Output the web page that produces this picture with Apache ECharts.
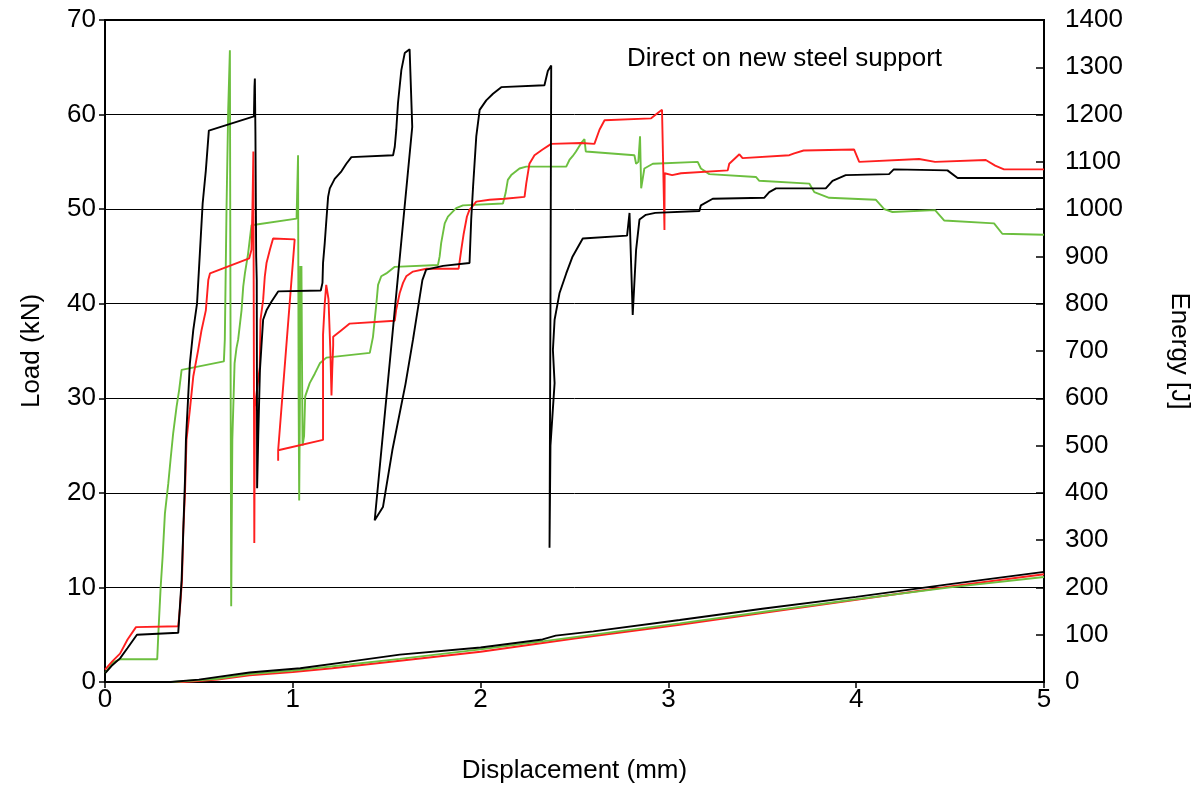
<!DOCTYPE html>
<html>
<head>
<meta charset="utf-8">
<script src="https://cdn.jsdelivr.net/npm/echarts@6/dist/echarts.min.js"></script>
<style>html,body{margin:0;padding:0;background:#fff}#c{width:1200px;height:789px}</style>
</head>
<body>
<div id="c"></div>
<script>
// ---- data (displacement mm, load kN / energy J) ----
var blackLoad = [[0,0.9],[0.04,1.8],[0.08,2.5],[0.12,3.6],[0.17,5.0],[0.39,5.2],[0.408,10.8],[0.417,16.1],[0.426,21.4],[0.431,25.6],[0.443,30.2],[0.452,33.7],[0.47,37.2],[0.49,40],[0.505,45.3],[0.52,50.6],[0.537,54.1],[0.553,58.3],[0.793,59.8],[0.796,63],[0.798,63.8],[0.801,58],[0.805,45],[0.808,42.5],[0.81,20.5],[0.816,26],[0.825,33],[0.833,35.5],[0.842,38.3],[0.86,39.3],[0.886,40.2],[0.922,41.3],[1.149,41.4],[1.158,42.2],[1.161,44.3],[1.17,46.4],[1.179,48.9],[1.188,51.3],[1.197,52.2],[1.223,53.2],[1.259,54.0],[1.285,54.8],[1.312,55.5],[1.534,55.7],[1.543,56.6],[1.551,58.4],[1.56,61.2],[1.578,64.7],[1.596,66.5],[1.622,66.9],[1.636,58.7],[1.436,17.1],[1.48,18.5],[1.53,24.5],[1.6,31.5],[1.64,36.2],[1.69,42.5],[1.71,43.6],[1.8,44.0],[1.941,44.3],[1.95,48.9],[1.96,52.4],[1.977,57.7],[1.995,60.5],[2.03,61.5],[2.066,62.2],[2.11,62.9],[2.34,63.1],[2.358,64.6],[2.376,65.2],[2.372,40],[2.367,14.2],[2.372,25],[2.394,31.6],[2.385,35.1],[2.394,38.3],[2.42,41.1],[2.456,43.2],[2.49,45],[2.544,46.9],[2.78,47.2],[2.793,49.6],[2.81,38.8],[2.828,45.7],[2.846,48.9],[2.88,49.4],[2.93,49.6],[3.165,49.8],[3.173,50.4],[3.236,51.1],[3.51,51.2],[3.537,51.8],[3.573,52.2],[3.838,52.2],[3.874,53.0],[3.944,53.6],[4.175,53.7],[4.2,54.2],[4.486,54.1],[4.54,53.3],[5.0,53.3]];

var redLoad = [[0,1.3],[0.04,2.2],[0.08,3.0],[0.12,4.5],[0.165,5.8],[0.39,5.9],[0.40,8.0],[0.41,10.8],[0.417,16.1],[0.426,20.0],[0.434,25.6],[0.452,28.8],[0.47,32.3],[0.496,35.1],[0.514,37.2],[0.537,39.3],[0.55,42.5],[0.559,43.2],[0.768,44.8],[0.78,45.7],[0.785,50],[0.79,56.1],[0.792,40],[0.795,14.7],[0.797,24],[0.798,29.1],[0.81,31],[0.824,33.3],[0.828,38.3],[0.842,40.4],[0.851,42.9],[0.86,44.3],[0.878,45.7],[0.895,46.9],[1.01,46.8],[0.922,24.5],[0.922,23.4],[0.922,24.5],[1.161,25.6],[1.161,36.7],[1.17,40],[1.178,42],[1.183,41.8],[1.19,40.5],[1.2,35],[1.206,30.3],[1.21,33],[1.215,35.6],[1.215,36.5],[1.259,37.2],[1.303,37.9],[1.543,38.2],[1.55,39.3],[1.569,41.1],[1.587,42.2],[1.604,42.9],[1.64,43.4],[1.711,43.7],[1.883,43.7],[1.897,45.7],[1.91,47.4],[1.927,49.2],[1.94,49.9],[1.977,50.8],[2.048,51.0],[2.128,51.1],[2.234,51.3],[2.243,52.7],[2.26,54.8],[2.287,55.7],[2.33,56.3],[2.376,56.9],[2.536,57.0],[2.606,56.9],[2.633,58.4],[2.66,59.4],[2.908,59.6],[2.952,60.3],[2.966,60.5],[2.975,52],[2.979,47.8],[2.98,53.8],[3.02,53.6],[3.067,53.8],[3.077,54.0],[3.316,54.1],[3.324,54.8],[3.378,55.8],[3.395,55.4],[3.644,55.7],[3.67,55.9],[3.72,56.2],[3.989,56.3],[4.016,55.0],[4.335,55.3],[4.42,55.0],[4.69,55.2],[4.74,54.6],[4.787,54.2],[5.0,54.2]];

var greenLoad = [[0,0.95],[0.044,2.1],[0.08,2.4],[0.278,2.4],[0.284,5.1],[0.296,9.9],[0.307,13.3],[0.319,17.8],[0.337,21.0],[0.349,23.5],[0.363,26.3],[0.381,29.1],[0.395,30.9],[0.408,33.0],[0.633,33.9],[0.638,36.2],[0.647,49.9],[0.656,60.5],[0.665,66.8],[0.668,40],[0.672,8],[0.674,7.8],[0.676,20],[0.678,25.6],[0.69,33.7],[0.70,35.3],[0.709,36.2],[0.727,39.3],[0.736,41.8],[0.745,43.2],[0.762,45.3],[0.78,48.3],[1.02,49.0],[1.028,55.7],[1.031,30],[1.034,19.2],[1.038,30],[1.04,44],[1.043,34],[1.046,44],[1.049,34],[1.052,25],[1.06,26],[1.066,30.2],[1.09,31.6],[1.117,32.6],[1.144,33.7],[1.179,34.3],[1.41,34.8],[1.427,36.5],[1.445,40.0],[1.454,42.0],[1.471,42.9],[1.498,43.2],[1.543,43.9],[1.773,44.1],[1.782,45.0],[1.79,46.4],[1.809,48.5],[1.826,49.2],[1.87,50.1],[1.906,50.4],[2.119,50.6],[2.133,51.7],[2.145,53.1],[2.163,53.6],[2.207,54.3],[2.243,54.5],[2.456,54.5],[2.473,55.2],[2.49,55.6],[2.508,56.1],[2.536,57.0],[2.553,57.4],[2.56,56.1],[2.819,55.7],[2.828,54.8],[2.84,55],[2.849,57.7],[2.855,52.2],[2.86,52.2],[2.872,54.3],[2.917,54.8],[3.156,55.0],[3.173,54.3],[3.218,53.7],[3.466,53.4],[3.484,53.0],[3.75,52.7],[3.777,51.8],[3.856,51.2],[4.104,51.0],[4.149,50.0],[4.193,49.7],[4.42,49.9],[4.468,48.8],[4.734,48.5],[4.778,47.4],[5.0,47.3]];

var blackEnergy = [[0,0],[0.35,0],[0.5,5],[0.77,20],[1.04,29],[1.3,43],[1.57,58],[2.0,73],[2.33,90],[2.4,98],[2.6,107],[3.06,131],[3.5,155],[4.0,180],[4.5,207],[5.0,233]];
var redEnergy = [[0,0],[0.42,0],[0.6,5],[0.77,14],[1.0,21],[1.21,29],[1.57,45],[2.0,64],[2.5,92],[3.06,121],[3.5,146],[4.0,174],[4.5,202],[5.0,228]];
var greenEnergy = [[0,0],[0.36,0],[0.6,7],[0.77,17],[1.0,24],[1.3,37],[1.57,49],[2.0,69],[2.5,95],[3.06,124],[3.5,148],[4.0,175],[4.5,200],[5.0,222]];

var xTicks = [0,1,2,3,4,5];
var annotation = 'Direct on new steel support';
var xName = 'Displacement (mm)';
var yLeftName = 'Load (kN)';
var yRightName = 'Energy [J]';

var FONT = 'Liberation Sans, Arial, sans-serif';
var FS = 26;
var BLACK = '#000000', RED = '#ff1f1f', GREEN = '#6cbf3f';

function line(name, data, color, yIdx) {
  return {
    name: name, type: 'line', data: data, yAxisIndex: yIdx,
    showSymbol: false, symbol: 'none', animation: false,
    lineStyle: {color: color, width: 1.9}, itemStyle: {color: color}
  };
}

var chart = echarts.init(document.getElementById('c'), null, {renderer: 'canvas'});
chart.setOption({
  backgroundColor: '#fff',
  animation: false,
  grid: {left: 105, right: 155, top: 20, bottom: 107, show: true, borderColor: '#000', borderWidth: 2, containLabel: false},
  xAxis: {
    type: 'value', min: 0, max: 5, interval: 1,
    name: xName, nameLocation: 'middle', nameGap: 76,
    nameTextStyle: {fontFamily: FONT, fontSize: FS, color: '#000'},
    axisLine: {lineStyle: {color: '#000', width: 2}},
    axisTick: {show: true, inside: false, length: 6, lineStyle: {color: '#000', width: 1.5}},
    axisLabel: {fontFamily: FONT, fontSize: FS, color: '#000', margin: 5,
      formatter: function (v) { return xTicks.indexOf(v) >= 0 ? String(v) : ''; }},
    splitLine: {show: false}
  },
  yAxis: [{
    type: 'value', min: 0, max: 70, interval: 10, position: 'left',
    name: yLeftName, nameLocation: 'middle', nameGap: 60, nameRotate: 90,
    nameTextStyle: {fontFamily: FONT, fontSize: FS, color: '#000'},
    axisLine: {show: true, lineStyle: {color: '#000', width: 2}},
    axisTick: {show: true, inside: false, length: 6, lineStyle: {color: '#000', width: 1.5}},
    axisLabel: {fontFamily: FONT, fontSize: FS, color: '#000', margin: 9},
    splitLine: {show: true, lineStyle: {color: '#000', width: 1}}
  }, {
    type: 'value', min: 0, max: 1400, interval: 100, position: 'right',
    name: yRightName, nameLocation: 'middle', nameGap: 122, nameRotate: -90,
    nameTextStyle: {fontFamily: FONT, fontSize: FS, color: '#000'},
    axisLine: {show: true, lineStyle: {color: '#000', width: 2}},
    axisTick: {show: true, inside: true, length: 8, lineStyle: {color: '#000', width: 1.5}},
    axisLabel: {fontFamily: FONT, fontSize: FS, color: '#000', margin: 21,
      formatter: function (v) { return String(v); }},
    splitLine: {show: false}
  }],
  graphic: [{
    type: 'text', left: 627, top: 46,
    style: {text: annotation, fontFamily: FONT, fontSize: FS, fill: '#000'}
  }],
  series: [
    line('Energy red', redEnergy, RED, 1),
    line('Energy green', greenEnergy, GREEN, 1),
    line('Energy black', blackEnergy, BLACK, 1),
    line('Load green', greenLoad, GREEN, 0),
    line('Load red', redLoad, RED, 0),
    line('Load black', blackLoad, BLACK, 0)
  ]
});
</script>
</body>
</html>
